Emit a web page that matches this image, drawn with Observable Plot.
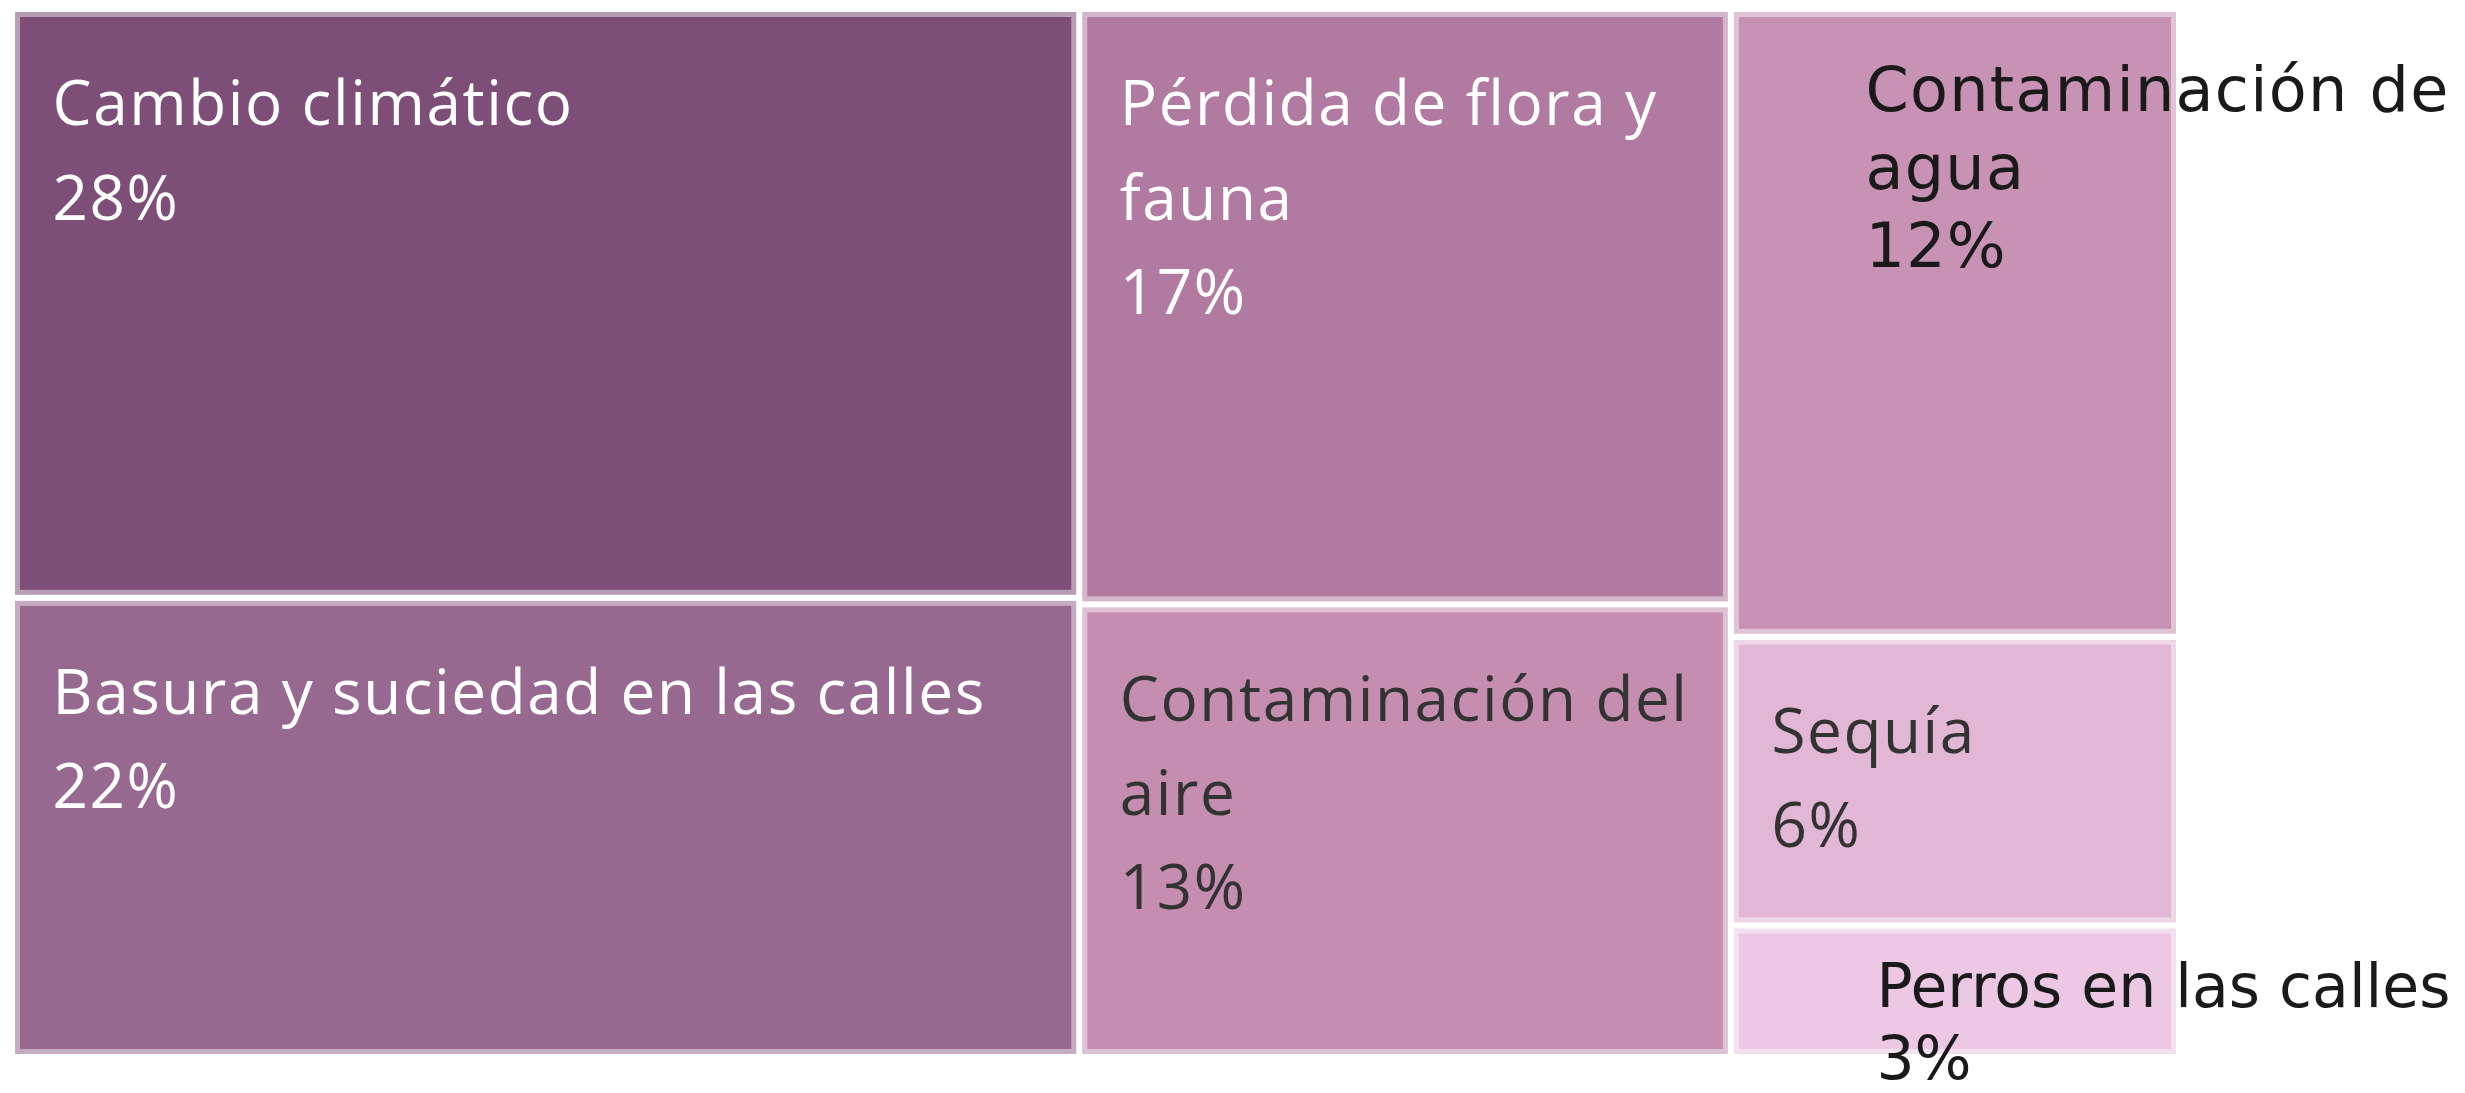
<!DOCTYPE html>
<html>
<head>
<meta charset="utf-8">
<script src="https://cdn.jsdelivr.net/npm/d3@7"></script>
<script src="https://cdn.jsdelivr.net/npm/@observablehq/plot@0.6"></script>
<style>
  html, body { margin: 0; padding: 0; background: #ffffff; overflow: hidden; }
  #chart svg { display: block; }
</style>
</head>
<body>
<div id="chart"></div>
<script>
// ---- data ----
const categories = [
  "Cambio climático",
  "Basura y suciedad en las calles",
  "Pérdida de flora y fauna",
  "Contaminación del aire",
  "Contaminación de agua",
  "Sequía",
  "Perros en las calles"
];
const shares = [27.7, 21.6, 17.1, 13.0, 12.4, 5.7, 2.6];   // percent
const columnOf = [1, 1, 2, 2, 3, 3, 3];                      // treemap column (branch)

// ---- style ----
const palette = ["#7c4e78", "#976991", "#b17ba1", "#c58eb1", "#c892b5", "#e2b6d5", "#ecc8e4"];
const overlayNames = new Set(["Contaminación de agua", "Perros en las calles"]);
const W = 2465, H = 1093;
const xRange = [12, 2179], yRange = [9, 1057];
const labelFont = "Open Sans", labelSize = 62, labelSpacing = 1.6, labelDx = 40, labelDy = 49;
const overFont = "DejaVu Sans";

// ---- layout ----
const items = categories.map((name, i) => ({name, value: shares[i], col: columnOf[i]}));
const root = d3.hierarchy({
  children: d3.groups(items, d => d.col).map(([col, ch]) => ({col, children: ch}))
}).sum(d => d.children ? 0 : d.value);
d3.treemap().tile(d3.treemapSliceDice).size([1, 1])(root);

const ctx = document.createElement("canvas").getContext("2d");
function wrap(text, font, spacing, maxW) {
  ctx.font = font;
  const measure = s => ctx.measureText(s).width + spacing * s.length;
  const words = text.split(" ");
  const lines = [];
  let line = "";
  for (const w of words) {
    const t = line ? line + " " + w : w;
    if (!line || measure(t) <= maxW) line = t;
    else { lines.push(line); line = w; }
  }
  lines.push(line);
  return lines.join("\n");
}

const pxW = xRange[1] - xRange[0];
const cells = root.leaves().map(n => {
  const d = n.data;
  const color = palette[categories.indexOf(d.name)];
  const overlay = overlayNames.has(d.name);
  const cellW = (n.x1 - n.x0) * pxW;
  const pct = Math.round(d.value) + "%";
  const label = overlay
    ? wrap(d.name, `62px "${overFont}"`, 1, 640) + "\n" + pct
    : wrap(d.name, `${labelSize}px "${labelFont}"`, labelSpacing, cellW - labelDx - 8) + "\n" + pct;
  return {name: d.name, value: d.value, x0: n.x0, x1: n.x1, y0: n.y0, y1: n.y1,
          overlay, dark: d3.lab(color).l > 62, label};
});

const pos = {x1: "x0", x2: "x1", y1: "y0", y2: "y1"};
const labelOpts = {
  x: "x0", y: "y0", text: "label", textAnchor: "start", lineAnchor: "top",
  dx: labelDx, dy: labelDy, fontSize: labelSize, lineHeight: 1.52, fontFamily: labelFont
};
const chart = Plot.plot({
  width: W,
  height: H,
  margin: 0,
  x: {domain: [0, 1], range: xRange, axis: null},
  y: {domain: [0, 1], range: yRange, axis: null},
  color: {type: "ordinal", domain: categories, range: palette},
  marks: [
    Plot.rect(cells, {...pos, fill: "name", inset: 3}),
    Plot.rect(cells, {...pos, fill: "none", stroke: "white", strokeOpacity: 0.45, strokeWidth: 10, inset: 3}),
    Plot.text(cells.filter(d => !d.overlay && !d.dark), {...labelOpts, fill: "#ffffff"}),
    Plot.text(cells.filter(d => !d.overlay && d.dark), {...labelOpts, fill: "#333333"}),
    Plot.text(cells.filter(d => d.name === "Contaminación de agua"), {
      x: "x0", y: "y0", text: "label", textAnchor: "start", lineAnchor: "top",
      dx: 134, dy: 46, fontSize: 62, lineHeight: 1.26,
      fontFamily: overFont, fill: "#1a1a1a"
    }),
    Plot.text(cells.filter(d => d.name === "Perros en las calles"), {
      x: "x0", y: "y0", text: "label", textAnchor: "start", lineAnchor: "top",
      dx: 145, dy: 30, fontSize: 60, lineHeight: 1.2,
      fontFamily: overFont, fill: "#1a1a1a"
    })
  ]
});
const textGroups = chart.querySelectorAll('g[aria-label="text"]');
textGroups.forEach((g, i) => {
  if (i < 2) g.setAttribute("letter-spacing", labelSpacing);
  else if (i === 2) g.setAttribute("letter-spacing", 1.3);
});
document.getElementById("chart").appendChild(chart);
</script>
</body>
</html>
